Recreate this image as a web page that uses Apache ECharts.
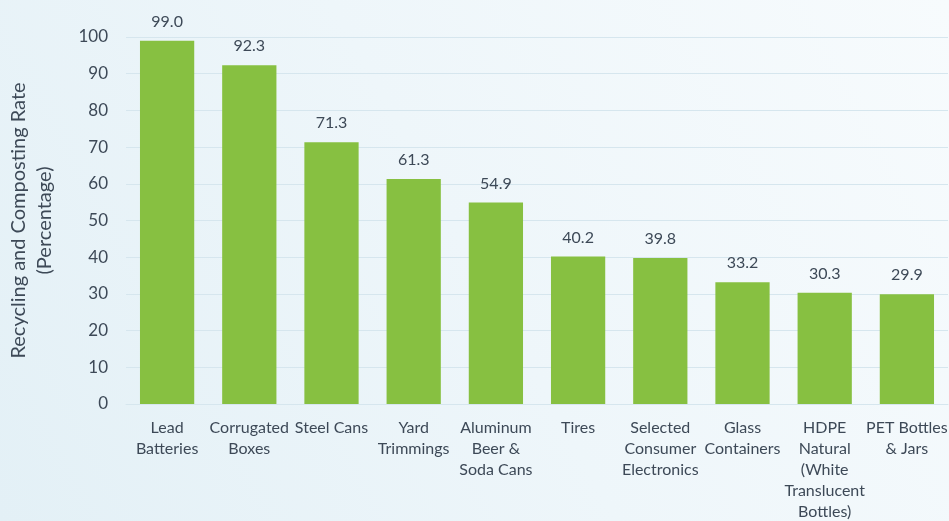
<!DOCTYPE html>
<html><head><meta charset="utf-8">
<script src="https://cdn.jsdelivr.net/npm/echarts@6/dist/echarts.min.js"></script>
<style>html,body{margin:0;padding:0;}#c{width:949px;height:521px;}</style>
</head><body><div id="c"></div>
<script>
var categories = ["Lead\nBatteries", "Corrugated\nBoxes", "Steel Cans", "Yard\nTrimmings", "Aluminum\nBeer &\nSoda Cans", "Tires", "Selected\nConsumer\nElectronics", "Glass\nContainers", "HDPE\nNatural\n(White\nTranslucent\nBottles)", "PET Bottles\n& Jars"];
var rates = [99.0, 92.3, 71.3, 61.3, 54.9, 40.2, 39.8, 33.2, 30.3, 29.9];
var yTitle = "Recycling and Composting Rate\n(Percentage)";

var chart = echarts.init(document.getElementById('c'), null, {renderer: 'canvas'});
var font = 'Lato, "Open Sans", sans-serif';
var textColor = '#3d4957';
chart.setOption({
  backgroundColor: {
    type: 'linear', x: 0, y: 1, x2: 1, y2: 0,
    colorStops: [{offset: 0, color: '#e3f0f6'}, {offset: 0.5, color: '#eef6fa'}, {offset: 1, color: '#f7fbfd'}]
  },
  animation: false,
  grid: {left: 126, right: 1, top: 37, bottom: 117, outerBoundsMode: 'none', containLabel: false},
  xAxis: {
    type: 'category',
    data: categories,
    axisLine: {show: true, lineStyle: {color: '#d6e6ee', width: 1}},
    axisTick: {show: false},
    axisLabel: {color: textColor, fontSize: 16, fontFamily: font, lineHeight: 21, margin: 13, interval: 0}
  },
  yAxis: {
    type: 'value', min: 0, max: 100, interval: 10,
    name: yTitle, nameLocation: 'middle', nameGap: 68, nameRotate: 90,
    nameTextStyle: {color: textColor, fontSize: 20, fontFamily: font, lineHeight: 26},
    axisLine: {show: false}, axisTick: {show: false},
    axisLabel: {color: textColor, fontSize: 17, fontFamily: font, margin: 18},
    splitLine: {lineStyle: {color: '#d6e6ee', width: 1}}
  },
  series: [{
    type: 'bar',
    data: rates,
    barWidth: '66%',
    itemStyle: {color: '#87c041'},
    label: {show: true, position: 'top', distance: 11, color: textColor, fontSize: 16, fontFamily: font,
      formatter: function (p) { return p.value.toFixed(1); }}
  }]
});
</script></body></html>
